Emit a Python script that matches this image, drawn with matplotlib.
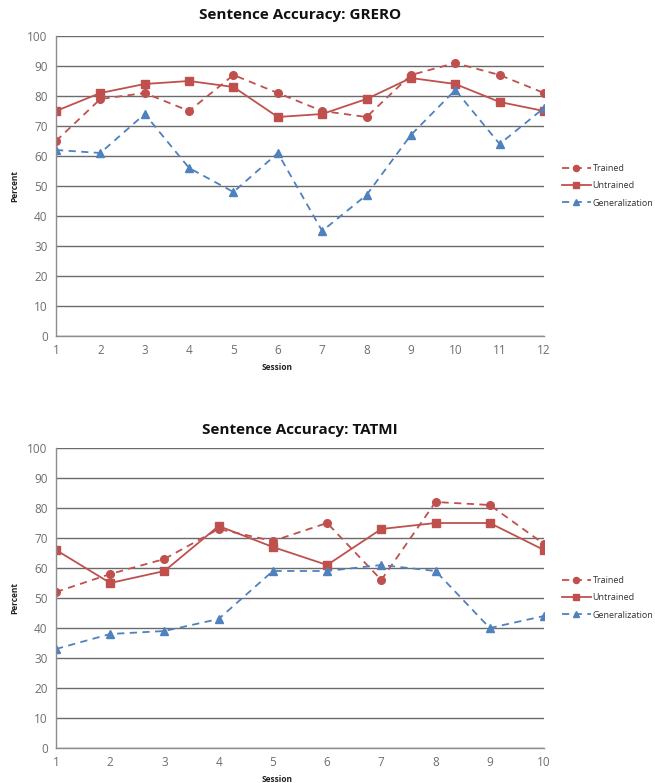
import matplotlib
matplotlib.use("Agg")
import matplotlib.pyplot as plt

sessions_grero = list(range(1, 13))
grero_trained = [65, 79, 81, 75, 87, 81, 75, 73, 87, 91, 87, 81]
grero_untrained = [75, 81, 84, 85, 83, 73, 74, 79, 86, 84, 78, 75]
grero_general = [62, 61, 74, 56, 48, 61, 35, 47, 67, 82, 64, 76]

sessions_tatmi = list(range(1, 11))
tatmi_trained = [52, 58, 63, 73, 69, 75, 56, 82, 81, 68]
tatmi_untrained = [66, 55, 59, 74, 67, 61, 73, 75, 75, 66]
tatmi_general = [33, 38, 39, 43, 59, 59, 61, 59, 40, 44]

titles = ["Sentence Accuracy: GRERO", "Sentence Accuracy: TATMI"]
series_names = ["Trained", "Untrained", "Generalization"]

RED = "#C0504D"
BLUE = "#4F81BD"

plt.rcParams['font.family'] = ['Open Sans', 'DejaVu Sans']

fig = plt.figure(figsize=(6.55, 7.83), dpi=100)
W, H = 655, 783

def make_axes(top_px, bottom_px):
    return fig.add_axes([56 / W, 1 - bottom_px / H, (544 - 56) / W, (bottom_px - top_px) / H])

panels = [
    (make_axes(36, 336), sessions_grero, grero_trained, grero_untrained, grero_general, titles[0], 15),
    (make_axes(448, 748), sessions_tatmi, tatmi_trained, tatmi_untrained, tatmi_general, titles[1], 430),
]

for ax, x, tr, un, ge, title, title_y in panels:
    ax.plot(x, tr, color=RED, linestyle=(0, (4, 3)), linewidth=1.3, marker='o', markersize=5.5, label=series_names[0])
    ax.plot(x, un, color=RED, linestyle='-', linewidth=1.3, marker='s', markersize=5.5, label=series_names[1])
    ax.plot(x, ge, color=BLUE, linestyle=(0, (4, 3)), linewidth=1.3, marker='^', markersize=5.5, label=series_names[2])
    ax.set_xlim(x[0], x[-1])
    ax.set_ylim(0, 100)
    ax.set_xticks(x)
    ax.set_yticks(range(0, 101, 10))
    ax.yaxis.grid(True, color='#6b6b6b', linewidth=1.0)
    ax.set_axisbelow(True)
    for s in ['top', 'right']:
        ax.spines[s].set_visible(False)
    for s in ['left', 'bottom']:
        ax.spines[s].set_color('#8c8c8c')
        ax.spines[s].set_linewidth(1.0)
    ax.tick_params(axis='both', length=0, labelsize=8.5, labelcolor='#6e6e6e', pad=6)
    ax.set_ylabel("Percent", fontsize=6, fontweight='bold', color='#222222')
    ax.yaxis.set_label_coords(-0.075, 0.5)
    ax.set_xlabel("Session", fontsize=6, fontweight='bold', color='#222222')
    ax.xaxis.set_label_coords((277 - 56) / (544 - 56), -0.09)
    fig.text(300 / W, 1 - title_y / H, title, ha='center', va='center', fontsize=11, fontweight='bold', color='#111111')
    leg = ax.legend(loc='center left', bbox_to_anchor=(1.02, 0.5), frameon=False, fontsize=6.5,
                    handlelength=3.2, labelspacing=0.9, handletextpad=0.2, markerscale=0.8)
    for t in leg.get_texts():
        t.set_color('#333333')

fig.savefig("out.png", dpi=100)
